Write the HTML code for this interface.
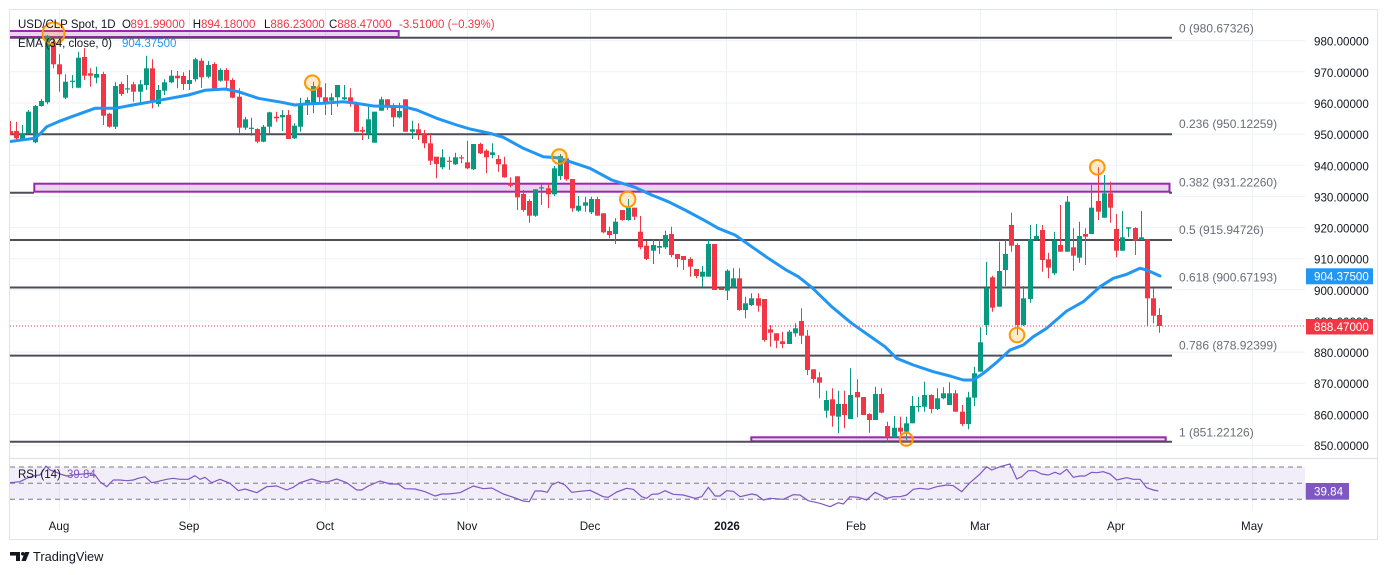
<!DOCTYPE html>
<html><head><meta charset="utf-8">
<style>
html,body{margin:0;padding:0;background:#fff;width:1388px;height:575px;overflow:hidden}
svg{display:block}
text{font-family:"Liberation Sans",sans-serif}
</style></head>
<body>
<svg width="1388" height="575" viewBox="0 0 1388 575" xmlns="http://www.w3.org/2000/svg">
<defs>
<clipPath id="cp"><rect x="10" y="10" width="1295" height="448"/></clipPath>
<clipPath id="cr"><rect x="10" y="459" width="1295" height="51"/></clipPath>
</defs>
<rect x="0" y="0" width="1388" height="575" fill="#fff"/>
<!-- horizontal gridlines -->
<g stroke="#eff1f5" stroke-width="1">
<line x1="10" x2="1305" y1="40.7" y2="40.7"/><line x1="10" x2="1305" y1="71.8" y2="71.8"/>
<line x1="10" x2="1305" y1="103" y2="103"/><line x1="10" x2="1305" y1="134.1" y2="134.1"/>
<line x1="10" x2="1305" y1="165.3" y2="165.3"/><line x1="10" x2="1305" y1="196.4" y2="196.4"/>
<line x1="10" x2="1305" y1="227.5" y2="227.5"/><line x1="10" x2="1305" y1="258.7" y2="258.7"/>
<line x1="10" x2="1305" y1="289.8" y2="289.8"/><line x1="10" x2="1305" y1="321" y2="321"/>
<line x1="10" x2="1305" y1="352.1" y2="352.1"/><line x1="10" x2="1305" y1="383.2" y2="383.2"/>
<line x1="10" x2="1305" y1="414.4" y2="414.4"/><line x1="10" x2="1305" y1="445.5" y2="445.5"/>
</g>
<!-- vertical gridlines -->
<g stroke="#eff1f5" stroke-width="1">
<line x1="59.5" x2="59.5" y1="10" y2="510"/><line x1="189.5" x2="189.5" y1="10" y2="510"/>
<line x1="325.5" x2="325.5" y1="10" y2="510"/><line x1="467.5" x2="467.5" y1="10" y2="510"/>
<line x1="590.5" x2="590.5" y1="10" y2="510"/><line x1="726.5" x2="726.5" y1="10" y2="510"/>
<line x1="856.5" x2="856.5" y1="10" y2="510"/><line x1="980.5" x2="980.5" y1="10" y2="510"/>
<line x1="1116.5" x2="1116.5" y1="10" y2="510"/><line x1="1252.5" x2="1252.5" y1="10" y2="510"/>
</g>
<!-- frame & pane separator -->
<rect x="9.5" y="9.5" width="1368" height="530" fill="none" stroke="#e0e3eb" stroke-width="1"/>
<line x1="10" x2="1377" y1="458.5" y2="458.5" stroke="#e0e3eb" stroke-width="1.2"/>

<g clip-path="url(#cp)">
<!-- rectangles -->
<rect x="6" y="31" width="392.7" height="6" fill="rgba(156,39,176,0.2)" stroke="#9c27b0" stroke-width="2"/>
<rect x="34.3" y="183.7" width="1135.2" height="8" fill="rgba(156,39,176,0.2)" stroke="#9c27b0" stroke-width="2"/>
<rect x="751.3" y="437.3" width="414.4" height="4" fill="rgba(156,39,176,0.2)" stroke="#9c27b0" stroke-width="2"/>
<!-- fib lines -->
<g stroke="#4c4f5a" stroke-width="2">
<line x1="10" x2="1172" y1="37.7" y2="37.7"/>
<line x1="10" x2="1172" y1="134.3" y2="134.3"/>
<line x1="10" x2="34" y1="192.7" y2="192.7"/><line x1="1169" x2="1172" y1="192.7" y2="192.7"/>
<line x1="10" x2="1172" y1="240" y2="240"/>
<line x1="10" x2="1172" y1="287.5" y2="287.5"/>
<line x1="10" x2="1172" y1="355.6" y2="355.6"/>
<line x1="10" x2="1172" y1="441.7" y2="441.7"/>
</g>
<g id="c"></g>
<!-- EMA -->
<polyline fill="none" stroke="#2196f3" stroke-width="3" stroke-linejoin="round" stroke-linecap="round" points="10,141.5 34.3,138.3 40,134 46.7,126.7 58.3,121.7 71.7,116.7 95,108.3 115,108.3 138.3,104 151.7,101.7 188.3,95 205,90.3 225,89 238.3,91.7 258.3,98.3 281.7,102.3 295,105 305,104 323,103.3 343,101.7 356.7,103.3 373.3,106 403.3,106.7 416.7,110 436.7,118.3 456.7,125 470,129 490,133.3 503.3,137.3 523.3,148.3 543.3,156.7 556.7,157.7 570,161.7 590,168.3 611.7,180 635,187.3 651.7,195 668.3,201.7 685,210 705,220.7 718.3,228.3 735,235 751.7,246.7 768.3,258.3 785,269.3 798.3,276.7 811.7,287.3 831.7,306.7 851.7,323.3 868.3,335 885,346.7 896.7,358.3 913.3,365 933.3,371.7 950,376 963.3,380 973.3,380 983.3,373.3 996.7,362.3 1010,350 1023.3,345 1033.3,336.7 1046.7,328.3 1066.7,311 1083.3,301.7 1100,286.7 1113.3,278.3 1126.7,274.3 1140,268.3 1146.7,270 1160,276"/>
<!-- circles -->
<g stroke="#ff9800" stroke-width="2" fill="rgba(255,152,0,0.2)">
<circle cx="53.5" cy="33.5" r="11"/>
<circle cx="312.3" cy="82.7" r="7.3"/>
<circle cx="559.3" cy="156.5" r="7.3"/>
<circle cx="627.7" cy="199.3" r="7.7"/>
<circle cx="906.3" cy="439.3" r="6.5"/>
<circle cx="1017" cy="335" r="7.3"/>
<circle cx="1097.3" cy="167.3" r="7.3"/>
</g>
<!-- current price line -->
<line x1="10" x2="1305" y1="326" y2="326" stroke="#f23645" stroke-width="1" stroke-dasharray="1 2"/>
</g>

<!-- RSI pane -->
<g clip-path="url(#cr)">
<rect x="10" y="467" width="1295" height="32.3" fill="rgba(126,87,194,0.1)"/>
<g stroke="#787b86" stroke-width="1" stroke-dasharray="5 4">
<line x1="10" x2="1305" y1="467" y2="467"/>
<line x1="10" x2="1305" y1="483.2" y2="483.2"/>
<line x1="10" x2="1305" y1="499.3" y2="499.3"/>
</g>
<polyline fill="none" stroke="#7e57c2" stroke-width="1.2" stroke-linejoin="round" points="10,482.7 20,481.7 26.7,478.3 33.3,476 40,475 46,466 50,470 55,471.7 60,474 66.7,476 73.3,475 83.3,474 90,473.3 95,475 100,481.7 106.7,486.7 113.3,480 120,480 126.7,480.7 133.3,480 138.3,478.3 145,476.7 151.7,482.7 156.7,481.7 166.7,479.3 173.3,478.3 180,479.3 188.3,479.3 195,475.7 200,479.3 205,477.3 211.7,482.7 220,479.3 230,483.3 238.3,490.7 245,489 256.7,492.7 266.7,486.7 276.7,486 286.7,490 293.3,487.3 300,482.7 311.7,479 321.7,482 328.3,481.7 336.7,479 346.7,482.7 356.7,490 361.7,490 368.3,486 380,481 390,484 398.3,484 405,488.7 415,489 425,491.7 435,496 441.7,494 448.3,494 460,492.7 473.3,486 483.3,488.7 491.7,488 503.3,494 513.3,497.3 523.3,501 529.3,501.7 535,491 541.7,491 547.3,492.3 551.7,485 558.3,482 565,485 571.7,492.3 580,491.3 590,490.3 603.3,496.7 608.3,497.3 616.7,492 626.7,488.3 633.3,489.3 641.7,496.7 646.7,498.3 651.7,494.3 658.3,494 665,490.7 673.3,494.3 683.3,495 695,498.3 701.7,496.7 708.3,487.3 715,496 720,496 726.7,490.7 733.3,491.3 740,496.7 751.7,494 756.7,495 763.3,500 770,498.3 783.3,499.3 793.3,494.7 800,495 808.3,500.7 820,503.3 830,506.7 838.3,502.7 843.3,504 850,496.7 858.3,497.3 866.7,500 875,492.3 886.7,498.3 893.3,496.7 900,496.7 906.7,495 913.3,489.3 920,488.3 928.3,489.3 936.7,486.7 946.7,485 953.3,485.7 961.7,491.7 970,482.7 980,474 986.7,466.7 991.7,470 1000,466.7 1010,464 1016.7,479 1021.7,476.7 1028.3,470.7 1035,470.7 1041.7,474 1048.3,475 1055,472.3 1060,474.3 1066.7,469.3 1073.3,477.3 1080,476 1085,476 1091.7,472.3 1096.7,472.7 1103.3,471.7 1110,474 1116.7,480 1126.7,477.7 1133.3,479.3 1140,479.3 1146.7,487.7 1153.3,490 1158.3,491"/>
</g>

<!-- header legend -->
<g font-size="11.5">
<text x="18" y="28" fill="#131722">USD/CLP Spot, 1D</text>
<text x="122" y="28" fill="#131722">O</text><text x="130.5" y="28" fill="#f23645">891.99000</text>
<text x="192.7" y="28" fill="#131722">H</text><text x="201" y="28" fill="#f23645">894.18000</text>
<text x="264" y="28" fill="#131722">L</text><text x="270.4" y="28" fill="#f23645">886.23000</text>
<text x="329" y="28" fill="#131722">C</text><text x="337.3" y="28" fill="#f23645">888.47000</text>
<text x="399" y="28" fill="#f23645">-3.51000 (−0.39%)</text>
<text x="18" y="47" fill="#131722">EMA (34, close, 0)</text>
<text x="122" y="47" fill="#2196f3">904.37500</text>
<text x="18" y="478" fill="#131722">RSI (14)</text>
<text x="67" y="478" fill="#7e57c2">39.84</text>
</g>

<!-- fib labels -->
<g font-size="12" fill="#6a6d78">
<text x="1179" y="32.3">0 (980.67326)</text>
<text x="1179" y="128">0.236 (950.12259)</text>
<text x="1179" y="186.7">0.382 (931.22260)</text>
<text x="1179" y="234">0.5 (915.94726)</text>
<text x="1179" y="281.7">0.618 (900.67193)</text>
<text x="1179" y="349.7">0.786 (878.92399)</text>
<text x="1179" y="436.3">1 (851.22126)</text>
</g>

<!-- price axis -->
<g font-size="11.6" fill="#131722">
<text x="1314" y="45.7">980.00000</text>
<text x="1314" y="76.8">970.00000</text>
<text x="1314" y="108">960.00000</text>
<text x="1314" y="139.1">950.00000</text>
<text x="1314" y="170.3">940.00000</text>
<text x="1314" y="201.4">930.00000</text>
<text x="1314" y="232.5">920.00000</text>
<text x="1314" y="263.7">910.00000</text>
<text x="1314" y="294.8">900.00000</text>
<text x="1314" y="326">890.00000</text>
<text x="1314" y="357.1">880.00000</text>
<text x="1314" y="388.2">870.00000</text>
<text x="1314" y="419.4">860.00000</text>
<text x="1314" y="450">850.00000</text>
</g>
<rect x="1306" y="268.3" width="67" height="16" fill="#2196f3"/>
<text x="1314" y="280.6" font-size="11.6" fill="#fff">904.37500</text>
<rect x="1306" y="319" width="67" height="15.5" fill="#f23645"/>
<text x="1314" y="331" font-size="11.6" fill="#fff">888.47000</text>
<rect x="1305.7" y="483" width="43.3" height="16.7" fill="#7e57c2"/>
<text x="1314" y="495.4" font-size="11.6" fill="#fff">39.84</text>

<!-- time axis -->
<g font-size="11.6" fill="#131722" text-anchor="middle">
<text x="59" y="530">Aug</text>
<text x="189" y="530">Sep</text>
<text x="325" y="530">Oct</text>
<text x="467" y="530">Nov</text>
<text x="590" y="530">Dec</text>
<text x="727" y="530" font-weight="bold">2026</text>
<text x="856" y="530">Feb</text>
<text x="980" y="530">Mar</text>
<text x="1116" y="530">Apr</text>
<text x="1252" y="530">May</text>
</g>

<!-- TradingView logo -->
<g fill="#131722">
<rect x="10" y="552" width="10" height="3.6"/>
<rect x="16" y="552" width="4" height="9"/>
<circle cx="22.8" cy="553.8" r="1.8"/>
<polygon points="25,552 29.5,552 25.8,561 21.4,561"/>
</g>
<text x="33" y="561" font-size="12.8" fill="#131722">TradingView</text>
</svg>
<script>
(function(){
var D=[
[0,121,131,134.3,135],[0,121.7,131,138.3,140],[1,125,133.3,140,141],[1,110,111.7,133.3,133.3],[1,105,106,142.3,143.3],
[1,99,101,106,106.7],[1,35,35.7,102.3,104.3],[0,38.3,41.7,64.3,68.3],[0,54.3,64.3,74.3,91.7],[1,74.3,81.7,97.7,99],
[1,75,80.7,81.7,88.3],[1,51.7,57.7,87.7,88.3],[0,48.3,57,75.7,80],[0,68.3,73.3,75.7,86.7],[1,66.7,74,77.7,83.3],
[0,71.7,74,115.7,125],[0,112.7,113.7,126.7,127.7],[1,82.3,86,126.7,129],[0,81.7,84,94,96],[1,75,88.3,89.3,93.3],
[0,81.7,84.3,91.7,101.7],[1,80,84.3,91.7,105],[1,55.7,68.3,85,90],[0,59.3,68.3,101.7,108.3],[1,85,90,104,106.7],
[1,79.3,82.3,90.7,95],[1,70,75.7,82.3,83.3],[0,71,75.7,78.3,88.3],[0,72.3,76,84,90],[1,70,80,84,90],
[1,57.7,59.3,79.3,81.7],[0,58.3,60.7,77.3,87.7],[1,61,65,76.7,78.3],[0,62.3,64,88.3,89],[1,68.3,70,80.7,81.7],
[0,68.3,70,80.7,90],[0,78.3,80,97.7,98.3],[0,88.3,96.7,127.7,133.3],[1,116.7,119.3,127.7,130],[1,117.7,127.7,128.3,135.7],
[0,128.3,129,141.7,143.3],[1,125,126.7,141.7,142.3],[1,111.7,112.3,126.7,133.3],[0,111.7,116.7,118.3,121.7],[1,110,115,117.3,131],
[0,110,115,139,139],[1,123.3,125.7,138.3,139],[1,97.7,105,126.7,131.7],[1,97.3,100,104.3,115],[1,81.7,86,103.3,113.3],
[0,86,87.3,97.3,103.3],[0,83.3,97.3,103.3,115],[1,93.3,97.3,100.7,115],[1,85,85,97.3,106.7],[1,85,97.3,99.3,100],
[0,88.3,97.3,103.3,106.7],[0,101.7,103.3,131.7,131.7],[0,126.7,130,131.7,140],[1,106.7,119.3,134,139],[1,111.7,111.7,142.7,142.7],
[1,96.7,99.3,110.7,110.7],[0,99.3,99.3,106,110],[0,103.3,105,117.3,126.7],[1,102.7,111,117.3,118.3],[0,99.3,99.3,131.7,131.7],
[1,120.7,129.3,131.7,139],[0,123.3,129.3,134,140],[0,130,133.3,143.3,148.3],[0,134,143.3,160.7,165],[0,156.7,156.7,164,178.3],
[1,149.3,157.3,167.3,169.3],[0,156.7,160.7,161.7,170],[1,152.7,157.3,164.3,165],[0,155,157.3,158.3,163.3],[0,140.7,162.3,168.3,169.3],
[1,144,144,169.3,170],[0,142.7,144,153.3,154],[0,149.3,150.7,157.3,173.3],[1,143.3,152.3,155,158.3],[0,155,159,164.3,171.7],
[0,156.7,164.3,177.3,177.7],[0,177.3,183.3,185.7,187.3],[0,176.3,176.3,197.3,210],[0,190,194,210,211.7],[0,199.3,201,215.7,222.7],
[1,189.3,189.3,215.7,216.7],[1,182.7,187.3,188.3,205],[0,182.7,188.3,194.3,208.3],[1,166,168.3,194.3,196],[1,154,156,176,180],
[0,156,158.3,179.3,180.7],[0,179,179,208.3,211.7],[1,196,205.7,210.7,211.7],[1,196.7,202.3,205.7,211.7],[1,196.7,199,212.3,214],
[0,196.7,199,215.7,215.7],[0,213.3,213.3,232.3,233.3],[0,226.7,231,235,238.3],[1,218.3,221.7,234,244],[0,210,210,220,220.7],
[1,199,207.7,220,220.7],[0,207.7,207.7,216.7,220],[0,216,231.7,247.3,249.3],[0,241,245.7,259,260],[1,239.3,245,250.7,264],
[1,239.3,246,247.7,254],[1,230.7,235,247.3,249],[0,226.7,234,255,257.3],[0,254,254,259,267.3],[0,256,256,260,270],
[0,257.3,259,266.7,276.7],[0,269,269,276,278.3],[1,266,271.7,276.7,287.3],[1,239.3,244,276.7,276.7],[0,244,244,290,290],
[0,287.3,288.3,290,290],[1,269.3,270.7,290.7,300],[1,268.3,278.3,287.3,288.3],[0,268.3,278.3,310,310.7],[1,296.7,303.3,310,318.3],
[1,293.3,298.3,305,306],[0,293.3,298.3,305.7,311.7],[0,299,299,340,341.7],[0,325,329.3,332.7,346.7],[0,333.3,333.3,340.7,348.3],
[0,331.7,341.3,344,348.3],[1,330,331.7,344,344],[1,323.3,328.3,333.3,336.7],[0,308.3,321,335.7,344],[0,330,335.7,370,375],
[0,369.3,369.3,379,382.7],[0,372.3,377.3,382.7,398.3],[1,390.7,400,410.7,417.7],[0,388.3,399.3,415.7,426.7],[1,390.7,404,416.7,433.3],
[0,390.7,404,415,428.3],[1,368.3,395,419,419],[0,379.3,392,397.3,417.3],[0,397,397,415,415],[0,413.3,414,420,432.7],
[1,386.7,394,420,420],[0,388.3,394,412.7,413.3],[0,421.7,426,437.3,441.7],[1,416,427.7,437.3,437.3],[0,416.7,427.7,431.7,435],
[1,416.7,423.3,431.7,440],[1,396,406,423.3,423.3],[1,396.7,406,407,411.7],[1,381.7,395,406.7,411.7],[0,394.3,395,409,413.3],
[1,388.3,398.3,409,410],[1,387.3,393.3,398.3,399.3],[1,382.3,393.3,405,405],[0,390,393.3,411.7,411.7],[0,405,411.7,424,426],
[1,391.7,397.3,424,429.3],[1,366.7,373.3,397.7,406],[1,327.3,342.3,371.7,371.7],[1,261.7,288.3,325,335],[0,275.7,277.3,307.7,311.7],
[1,241.7,271,306.7,306.7],[1,239.3,254,270,286],[0,212.7,225,245.7,251.7],[0,243.3,245,325,335],[1,286,298.3,325,326],
[1,225,239.3,299,302.7],[1,224,236,239.3,239.3],[0,225,230,260,271.7],[0,252.7,259.3,267.7,278.3],[1,231.7,240.7,273.3,275],
[0,205,245,251.7,251.7],[1,196,201.7,251.7,251.7],[0,228.3,247.3,255.7,270.7],[1,221.7,236,257.7,262.7],[0,228.3,234,236.7,265],
[1,185,207.7,234,234],[0,167.3,201,211.7,220],[1,175,193.3,217.7,217.7],[0,181.7,193.3,207.7,222.7],[0,214,229,250.7,257.3],
[1,211,237.3,250.7,250.7],[1,227.3,227.3,228.7,237.3],[0,227.3,228,240.7,255],[1,211,237.3,240,240],[0,239.3,239.3,298.3,326],
[0,288.3,298.3,315.7,323.3],[0,308.3,315,326,332.7]
];
var NS="http://www.w3.org/2000/svg";
var g=document.getElementById("c");
for(var i=0;i<D.length;i++){
  var d=D[i];var x=3.68+6.18*(i+1);var cx=Math.round(x);
  var col=d[0]?"#089981":"#f23645";
  var ln=document.createElementNS(NS,"line");
  ln.setAttribute("x1",cx+0.5);ln.setAttribute("x2",cx+0.5);
  ln.setAttribute("y1",d[1]);ln.setAttribute("y2",d[4]);
  ln.setAttribute("stroke",col);ln.setAttribute("stroke-width","1");
  g.appendChild(ln);
  var h=Math.max(d[3]-d[2],1.2);
  var r=document.createElementNS(NS,"rect");
  r.setAttribute("x",cx-2);r.setAttribute("y",d[2]);
  r.setAttribute("width","5");r.setAttribute("height",h);
  r.setAttribute("fill",col);
  g.appendChild(r);
}
})();
</script>
</body></html>
